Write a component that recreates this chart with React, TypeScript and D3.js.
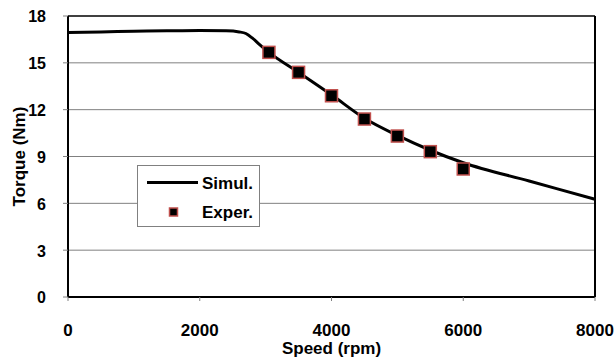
import React from "react";
import * as d3 from "d3";

const simSpeed = [0, 500, 1000, 1500, 2000, 2400, 2600, 2700, 2800, 2900, 3050, 3500, 4000, 4500, 5000, 5500, 6000, 7000, 8000];
const simTorque = [16.95, 16.98, 17.02, 17.05, 17.07, 17.05, 16.98, 16.88, 16.58, 16.2, 15.67, 14.39, 12.95, 11.45, 10.35, 9.4, 8.6, 7.43, 6.26];
const expSpeed = [3050, 3500, 4000, 4500, 5000, 5500, 6000];
const expTorque = [15.67, 14.39, 12.89, 11.4, 10.31, 9.31, 8.2];
const xTicks = [0, 2000, 4000, 6000, 8000];
const yTicks = [0, 3, 6, 9, 12, 15, 18];

export default function App() {
  const W = 616, H = 362;
  const L = 68, R = 595, T = 16, B = 297;
  const x = d3.scaleLinear().domain([0, 8000]).range([L, R]);
  const y = d3.scaleLinear().domain([0, 18]).range([B, T]);
  const line = d3
    .line<number>()
    .x((_, i) => x(simSpeed[i]))
    .y((d) => y(d))
    .curve(d3.curveMonotoneX);
  const font = "Arial, 'Liberation Sans', sans-serif";
  return (
    <svg width={W} height={H} style={{ position: "absolute", left: 0, top: 0 }}>
      <rect x={0} y={0} width={W} height={H} fill="#fff" />
      {yTicks.filter((t) => t > 0 && t < 18).map((t) => (
        <line key={"g" + t} x1={L} x2={R} y1={y(t)} y2={y(t)} stroke="#808080" strokeWidth={1} />
      ))}
      <line x1={L} x2={R} y1={T} y2={T} stroke="#000" strokeWidth={1.5} />
      <line x1={L} x2={L} y1={T} y2={B} stroke="#000" strokeWidth={2} />
      <line x1={R} x2={R} y1={T} y2={B} stroke="#000" strokeWidth={2} />
      <line x1={L} x2={R} y1={B} y2={B} stroke="#000" strokeWidth={2} />
      {yTicks.map((t) => (
        <g key={"y" + t}>
          <line x1={L - 5} x2={L} y1={y(t)} y2={y(t)} stroke="#808080" strokeWidth={1} />
          <text x={46} y={y(t)} dy="0.4em" textAnchor="end" fontFamily={font} fontWeight="bold" fontSize={16}>
            {t}
          </text>
        </g>
      ))}
      {xTicks.map((t) => (
        <g key={"x" + t}>
          <line x1={x(t)} x2={x(t)} y1={B} y2={B + 4} stroke="#808080" strokeWidth={1} />
          <text x={x(t)} y={336} textAnchor="middle" fontFamily={font} fontWeight="bold" fontSize={17}>
            {t}
          </text>
        </g>
      ))}
      <text x={(L + R) / 2} y={354} textAnchor="middle" fontFamily={font} fontWeight="bold" fontSize={17}>
        Speed (rpm)
      </text>
      <text
        transform={`translate(25,${(T + B) / 2}) rotate(-90)`}
        textAnchor="middle"
        fontFamily={font}
        fontWeight="bold"
        fontSize={17}
      >
        Torque (Nm)
      </text>
      <path d={line(simTorque) || ""} fill="none" stroke="#000" strokeWidth={3} />
      {expSpeed.map((s, i) => (
        <rect
          key={"e" + i}
          x={x(s) - 6}
          y={y(expTorque[i]) - 6}
          width={12}
          height={12}
          fill="#000"
          stroke="#c0504d"
          strokeWidth={1.5}
        />
      ))}
      <g>
        <rect x={137.5} y={165.5} width={122} height={61} fill="#fff" stroke="#808080" strokeWidth={1} />
        <line x1={147} x2={198} y1={182.5} y2={182.5} stroke="#000" strokeWidth={3} />
        <text x={202} y={188.5} fontFamily={font} fontWeight="bold" fontSize={17}>
          Simul.
        </text>
        <rect x={169.5} y={208} width={8} height={8} fill="#000" stroke="#c0504d" strokeWidth={1.5} />
        <text x={202} y={218} fontFamily={font} fontWeight="bold" fontSize={17}>
          Exper.
        </text>
      </g>
    </svg>
  );
}
